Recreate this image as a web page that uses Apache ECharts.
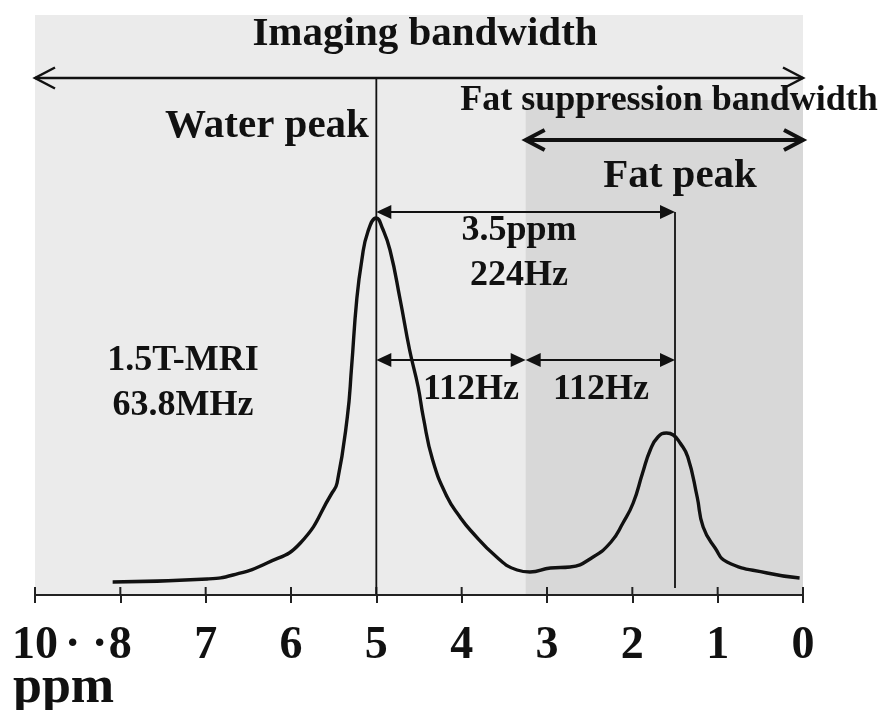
<!DOCTYPE html>
<html>
<head>
<meta charset="utf-8">
<title>Water and fat chemical shift at 1.5T</title>
<script src="https://cdn.jsdelivr.net/npm/echarts@6/dist/echarts.min.js"></script>
<style>
  html, body { margin: 0; padding: 0; background: #ffffff; }
  #chart { width: 890px; height: 710px; }
</style>
</head>
<body>
<div id="chart"></div>
<script>
// Spectrum trace: chemical shift (ppm) and relative signal intensity
const ppm = [8.09, 6.98, 6.68, 6.28, 5.89, 5.52, 5.46, 5.34, 5.29, 5.23, 5.17, 5.10, 5.00,
             4.93, 4.84, 4.72, 4.61, 4.51, 4.45, 4.34, 4.17, 4.02, 3.90, 3.59, 3.35, 3.20,
             2.96, 2.73, 2.46, 2.25, 2.11, 1.99, 1.88, 1.79, 1.70, 1.60, 1.52, 1.44, 1.35,
             1.24, 1.17, 1.03, 0.89, 0.42, 0.04];
const signal = [2.6, 3.2, 4.0, 6.4, 10.4, 20.4, 22.4, 35.6, 45.6, 59.0, 67.0, 72.6, 75.4,
                73.4, 69.0, 59.0, 49.0, 41.6, 35.6, 27.0, 19.6, 15.6, 13.0, 7.6, 5.0, 4.6,
                5.4, 5.6, 7.6, 10.6, 14.4, 18.4, 24.4, 29.0, 31.6, 32.4, 32.0, 30.4, 27.6,
                19.6, 13.6, 9.4, 6.6, 4.4, 3.4];

// Axis ticks and their labels (the 10..8 range is collapsed into one step)
const tickValues = [0, 1, 2, 3, 4, 5, 6, 7, 8, 9];
const labelValues = [0, 1, 2, 3, 4, 5, 6, 7, 8, 8.4, 9];
const labelTexts = ['0', '1', '2', '3', '4', '5', '6', '7', '8', '\u00b7 \u00b7', '10'];

// Peak positions (ppm)
const waterPeak = 5.0;
const fatPeak = 1.5;
const bandSplit = 3.25;

// Shaded bandwidths: [from ppm, to ppm, bottom, top]
const bandNames = ['imaging', 'fatSuppression'];
const bandFrom = [9, bandSplit];
const bandTo = [0, 0];
const bandTop = [116, 99];

// Horizontal arrows: [from ppm, to ppm, level]
const arrowNames = ['imaging', 'fatSuppression', 'shift', 'halfWater', 'halfFat'];
const arrowFrom = [9, bandSplit, waterPeak, waterPeak, bandSplit];
const arrowTo = [0, 0, fatPeak, bandSplit, fatPeak];
const arrowLevel = [103.4, 91, 76.6, 47, 47];

// Vertical guide lines: [ppm, bottom, top]
const guideX = [waterPeak, fatPeak];
const guideBottom = [0, 1.4];
const guideTop = [103.4, 76.6];

const INK = '#111111';
const AXIS_INK = '#222222';
const SERIF = '"Liberation Serif", "Times New Roman", serif';
const TICK_LEN = 8;

const bandColors = { imaging: '#ebebeb', fatSuppression: '#d8d8d8' };
const arrowStyles = {
  imaging:        { head: 'open',   width: 2.5, len: 20, half: 10.5 },
  fatSuppression: { head: 'open',   width: 4,   len: 19, half: 10 },
  shift:          { head: 'filled', width: 2.2, len: 15, half: 7 },
  halfWater:      { head: 'filled', width: 2.2, len: 15, half: 7 },
  halfFat:        { head: 'filled', width: 2.2, len: 15, half: 7 }
};

const chart = echarts.init(document.getElementById('chart'), null, { renderer: 'canvas' });

function renderBand(params, api) {
  const p1 = api.coord([api.value(0), api.value(2)]);
  const p2 = api.coord([api.value(1), api.value(3)]);
  const name = bandNames[params.dataIndex];
  return {
    type: 'rect',
    shape: {
      x: Math.min(p1[0], p2[0]), y: Math.min(p1[1], p2[1]),
      width: Math.abs(p2[0] - p1[0]), height: Math.abs(p2[1] - p1[1])
    },
    style: { fill: bandColors[name] }
  };
}

function renderArrow(params, api) {
  const y = api.value(2);
  const a = api.coord([api.value(0), y]);
  const b = api.coord([api.value(1), y]);
  const st = arrowStyles[arrowNames[params.dataIndex]];
  const dx = b[0] - a[0], dy = b[1] - a[1];
  const L = Math.sqrt(dx * dx + dy * dy) || 1;
  const ux = dx / L, uy = dy / L, nx = -uy, ny = ux;
  const children = [];
  function head(tip, dir) {
    const bx = tip[0] + ux * st.len * dir, by = tip[1] + uy * st.len * dir;
    const arm1 = [bx + nx * st.half, by + ny * st.half];
    const arm2 = [bx - nx * st.half, by - ny * st.half];
    if (st.head === 'open') {
      children.push({
        type: 'polyline',
        shape: { points: [arm1, tip, arm2] },
        style: { stroke: INK, lineWidth: st.width, fill: null, lineJoin: 'miter' }
      });
    } else {
      children.push({
        type: 'polygon',
        shape: { points: [tip, arm1, arm2] },
        style: { fill: INK }
      });
    }
    return [bx, by];
  }
  const s = head(a, 1);
  const e = head(b, -1);
  const from = st.head === 'open' ? a : [s[0] - ux * 2, s[1] - uy * 2];
  const to = st.head === 'open' ? b : [e[0] + ux * 2, e[1] + uy * 2];
  children.unshift({
    type: 'line',
    shape: { x1: from[0], y1: from[1], x2: to[0], y2: to[1] },
    style: { stroke: INK, lineWidth: st.width }
  });
  return { type: 'group', children: children };
}

function renderGuide(params, api) {
  const p1 = api.coord([api.value(0), api.value(1)]);
  const p2 = api.coord([api.value(0), api.value(2)]);
  return {
    type: 'line',
    shape: { x1: p1[0], y1: p1[1], x2: p2[0], y2: p2[1] },
    style: { stroke: INK, lineWidth: 1.8 }
  };
}

// Upper halves of the axis ticks (the axis itself draws the lower halves)
function renderTickTop(params, api) {
  const p = api.coord([api.value(0), 0]);
  return {
    type: 'line',
    shape: { x1: p[0], y1: p[1], x2: p[0], y2: p[1] - TICK_LEN },
    style: { stroke: AXIS_INK, lineWidth: 2 }
  };
}

function label(text, x, y, size, align) {
  return {
    type: 'text', x: x, y: y, z: 20,
    style: {
      text: text, fill: INK,
      font: 'bold ' + size + 'px ' + SERIF,
      align: align || 'center', verticalAlign: 'middle'
    }
  };
}

chart.setOption({
  backgroundColor: '#ffffff',
  animation: false,
  grid: { left: 35, right: 87, top: 5, bottom: 115, containLabel: false },
  xAxis: {
    type: 'value', min: 0, max: 9, inverse: true, position: 'bottom', z: 8,
    splitLine: { show: false },
    axisLine: { show: true, onZero: false, lineStyle: { color: AXIS_INK, width: 2 } },
    axisTick: { show: true, customValues: tickValues, length: TICK_LEN, lineStyle: { color: AXIS_INK, width: 2 } },
    axisLabel: {
      show: true, customValues: labelValues, margin: 28,
      color: INK, fontFamily: SERIF, fontWeight: 'bold', fontSize: 46,
      formatter: function (v) {
        const i = labelValues.findIndex(function (t) { return Math.abs(t - v) < 1e-6; });
        return i >= 0 ? labelTexts[i] : '';
      }
    }
  },
  yAxis: { type: 'value', min: 0, max: 118, show: false },
  series: [
    {
      type: 'custom', name: 'bands', z: 1, silent: true,
      encode: { x: [0, 1], y: [2, 3] },
      renderItem: renderBand,
      data: bandNames.map(function (n, i) { return [bandFrom[i], bandTo[i], 0, bandTop[i]]; })
    },
    {
      type: 'custom', name: 'tickTops', z: 2, silent: true,
      encode: { x: 0 },
      renderItem: renderTickTop,
      data: tickValues.map(function (v) { return [v]; })
    },
    {
      type: 'custom', name: 'guides', z: 3, silent: true,
      encode: { x: 0, y: [1, 2] },
      renderItem: renderGuide,
      data: guideX.map(function (x, i) { return [x, guideBottom[i], guideTop[i]]; })
    },
    {
      type: 'line', name: 'spectrum', z: 4,
      data: ppm.map(function (x, i) { return [x, signal[i]]; }),
      showSymbol: false, smooth: 0.5,
      lineStyle: { color: INK, width: 3.4 }
    },
    {
      type: 'custom', name: 'arrows', z: 5, silent: true,
      encode: { x: [0, 1], y: 2 },
      renderItem: renderArrow,
      data: arrowNames.map(function (n, i) { return [arrowFrom[i], arrowTo[i], arrowLevel[i]]; })
    }
  ],
  graphic: [
    label('Imaging bandwidth', 425, 34, 41),
    label('Water peak', 267, 126, 41),
    label('Fat suppression bandwidth', 669, 101, 36),
    label('Fat peak', 680, 176, 41),
    label('3.5ppm', 519, 231, 36),
    label('224Hz', 519, 276, 36),
    label('112Hz', 471, 390, 36),
    label('112Hz', 601, 390, 36),
    label('1.5T-MRI', 183, 361, 36),
    label('63.8MHz', 183, 406, 36),
    label('ppm', 13, 689, 52, 'left')
  ]
});
</script>
</body>
</html>
